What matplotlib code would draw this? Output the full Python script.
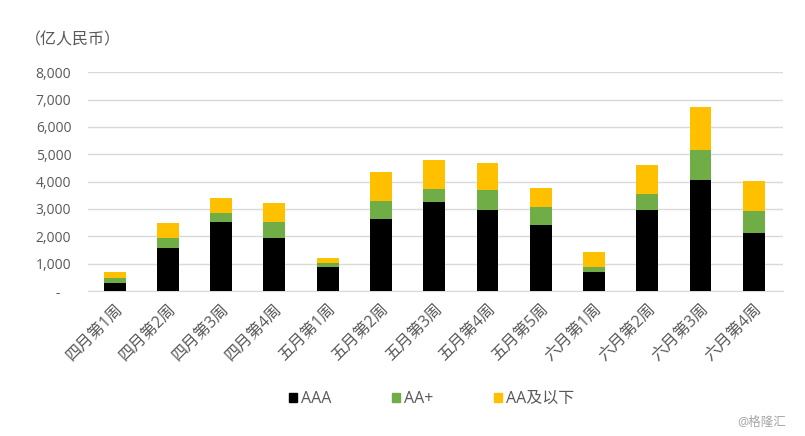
import matplotlib
matplotlib.use('Agg')
import matplotlib.pyplot as plt
from matplotlib.patches import Patch
from matplotlib.transforms import ScaledTranslation
import numpy as np

plt.rcParams['font.family'] = ['Open Sans', 'Noto Sans CJK SC', 'DejaVu Sans']

weeks = ['四月第1周', '四月第2周', '四月第3周', '四月第4周', '五月第1周', '五月第2周', '五月第3周',
         '五月第4周', '五月第5周', '六月第1周', '六月第2周', '六月第3周', '六月第4周']
aaa = [293, 1573, 2524, 1951, 890, 2634, 3272, 2979, 2430, 708, 2979, 4078, 2137]
aa_plus = [182, 367, 330, 573, 134, 646, 476, 733, 659, 183, 586, 1062, 806]
aa_below = [220, 548, 548, 696, 183, 1074, 1026, 952, 696, 550, 1026, 1576, 1099]
y_ticks = [0, 1000, 2000, 3000, 4000, 5000, 6000, 7000, 8000]
y_labels = ['-   ', '1,000', '2,000', '3,000', '4,000', '5,000', '6,000', '7,000', '8,000']

TEXT_COLOR = '#595959'
colors = ['#000000', '#70AD47', '#FFC000']
names = ['AAA', 'AA+', 'AA及以下']

fig = plt.figure(figsize=(8.05, 4.36), dpi=100)
ax = fig.add_axes([88 / 805, 1 - 291 / 436, (783 - 88) / 805, (291 - 72.3) / 436])

x = np.arange(len(weeks))
bottom = np.zeros(len(weeks))
for values, color in zip([aaa, aa_plus, aa_below], colors):
    ax.bar(x, values, width=0.41, bottom=bottom, color=color, zorder=3)
    bottom += np.array(values)

ax.set_xlim(-0.5, 12.55)
ax.set_ylim(0, 8000)
ax.set_yticks(y_ticks)
ax.set_yticklabels(y_labels, fontsize=10, color=TEXT_COLOR)
ax.set_xticks(x)
ax.set_xticklabels(weeks, fontsize=11.5, color=TEXT_COLOR, rotation=45, ha='right', rotation_mode='anchor')
# labels sit a bit left of the tick in the original
shift = ScaledTranslation(-10 / 100, 0, fig.dpi_scale_trans)
for label in ax.get_xticklabels():
    label.set_transform(label.get_transform() + shift)
ax.tick_params(axis='y', length=0, pad=12)
ax.tick_params(axis='x', length=0, pad=7)
ax.grid(axis='y', color='#d9d9d9', linewidth=1, zorder=0)
for side in ['top', 'right', 'left']:
    ax.spines[side].set_visible(False)
ax.spines['bottom'].set_color('#d9d9d9')

fig.text(25 / 805, 1 - 40 / 436, '（亿人民币）', fontsize=11.5, color=TEXT_COLOR, va='center')
fig.text(786 / 805, 1 - 422 / 436, '@格隆汇', fontsize=9, color='#a6a6a6', va='center', ha='right')

handles = [Patch(color=c) for c in colors]
fig.legend(handles, names, ncol=3, frameon=False, fontsize=11.5, labelcolor=TEXT_COLOR,
           loc='center left', bbox_to_anchor=(275 / 805, 1 - 399 / 436),
           handlelength=0.5, handleheight=0.5, handletextpad=0.25, columnspacing=3.8)

fig.savefig('out.png', dpi=100)
